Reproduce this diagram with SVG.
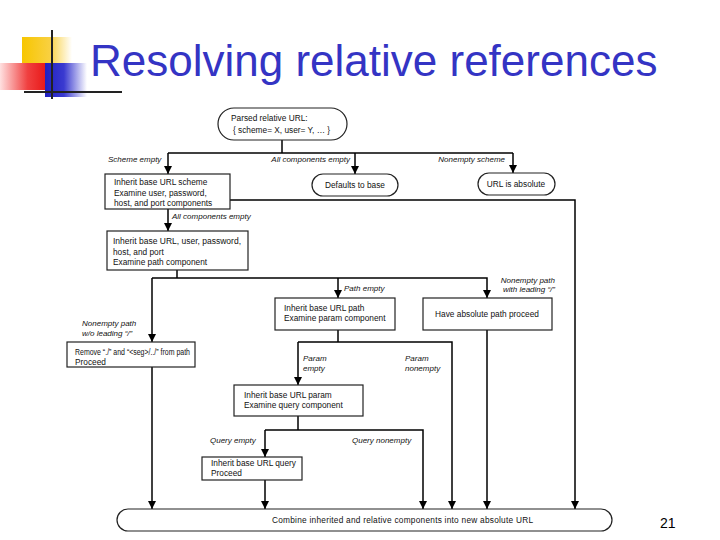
<svg xmlns="http://www.w3.org/2000/svg" width="720" height="540" viewBox="0 0 720 540">
<defs>
<linearGradient id="gy" x1="0" y1="0" x2="1" y2="0"><stop offset="0" stop-color="#f7c600"/><stop offset="0.55" stop-color="#f9d040"/><stop offset="1" stop-color="#ffffff"/></linearGradient>
<linearGradient id="gr" x1="0" y1="0" x2="1" y2="0"><stop offset="0" stop-color="#ffe0e0"/><stop offset="0.6" stop-color="#f04040"/><stop offset="1" stop-color="#e81818"/></linearGradient>
<linearGradient id="gb" x1="0" y1="0" x2="1" y2="0"><stop offset="0" stop-color="#2020c0"/><stop offset="0.45" stop-color="#3a3ad0"/><stop offset="1" stop-color="#ffffff"/></linearGradient>
<marker id="ah" markerUnits="userSpaceOnUse" markerWidth="9" markerHeight="9" refX="8" refY="4" orient="auto"><path d="M0,0 L8,4 L0,8 z" fill="#000"/></marker>
</defs>
<style>
.title{font-family:"Liberation Sans",Arial,sans-serif;font-size:44px;fill:#3434c4}
.box{fill:#fff;stroke:#222;stroke-width:1.2}
.t{font-family:"Liberation Sans",Arial,sans-serif;font-size:8.3px;fill:#111}
.l{font-family:"Liberation Sans",Arial,sans-serif;font-size:8px;font-style:italic;fill:#111}
.c{fill:none;stroke:#000;stroke-width:1.5}
.a{marker-end:url(#ah)}
.pg{font-family:"Liberation Sans",Arial,sans-serif;font-size:14px;fill:#000}
</style>
<rect width="720" height="540" fill="#fff"/>
<g id="logo">
<rect x="22" y="37" width="50" height="28" fill="url(#gy)"/>
<rect x="0" y="63" width="46" height="27" fill="url(#gr)"/>
<rect x="45" y="63" width="42" height="34" fill="url(#gb)"/>
<line x1="52" y1="30" x2="52" y2="99" stroke="#222" stroke-width="2"/>
<line x1="24" y1="92" x2="122" y2="92" stroke="#222" stroke-width="2"/>
</g>
<text class="title" x="90" y="76">Resolving relative references</text>
<g id="connectors">
<path class="c" d="M282,140 V153"/>
<path class="c" d="M168,153 H513"/>
<path class="c a" d="M168,153 V174"/>
<path class="c a" d="M355,153 V174"/>
<path class="c a" d="M513,153 V173"/>
<path class="c a" d="M230,200 H575 V509"/>
<path class="c a" d="M168,209 V231"/>
<path class="c" d="M177,270 V278"/>
<path class="c a" d="M152,278 H487 V298"/>
<path class="c a" d="M152,278 V342"/>
<path class="c a" d="M338,278 V298"/>
<path class="c a" d="M152,367 V509"/>
<path class="c" d="M338,330 V342"/>
<path class="c a" d="M298,342 H452 V509"/>
<path class="c a" d="M298,342 V385"/>
<path class="c a" d="M487,330 V509"/>
<path class="c" d="M298,416 V430"/>
<path class="c a" d="M265,430 H423 V509"/>
<path class="c a" d="M265,430 V457"/>
<path class="c a" d="M265,480 V509"/>
</g>
<g id="labels">
<text class="l" x="108" y="162">Scheme empty</text>
<text class="l" x="350" y="162" text-anchor="end">All components empty</text>
<text class="l" x="505" y="162" text-anchor="end">Nonempty scheme</text>
<text class="l" x="172" y="219">All components empty</text>
<text class="l" x="344" y="291">Path empty</text>
<text class="l" x="555" y="283" text-anchor="end">Nonempty path</text>
<text class="l" x="555" y="292" text-anchor="end">with leading “/”</text>
<text class="l" x="82" y="326">Nonempty path</text>
<text class="l" x="82" y="336">w/o leading “/”</text>
<text class="l" x="303" y="361">Param</text>
<text class="l" x="303" y="371">empty</text>
<text class="l" x="405" y="361">Param</text>
<text class="l" x="405" y="371">nonempty</text>
<text class="l" x="210" y="443">Query empty</text>
<text class="l" x="352" y="443">Query nonempty</text>
</g>
<g id="n-start">
<rect class="box" x="218" y="108" width="129" height="32" rx="16"/>
<text class="t" x="231" y="121">Parsed relative URL:</text>
<text class="t" x="233" y="133">{ scheme= X, user= Y, … }</text>
</g>
<g id="n-scheme">
<rect class="box" x="105" y="174" width="125" height="35"/>
<text class="t" x="114" y="185">Inherit base URL scheme</text>
<text class="t" x="114" y="196">Examine user, password,</text>
<text class="t" x="114" y="206">host, and port components</text>
</g>
<g id="n-defaults">
<rect class="box" x="312" y="174" width="86" height="22" rx="11"/>
<text class="t" x="355" y="188" text-anchor="middle">Defaults to base</text>
</g>
<g id="n-absolute">
<rect class="box" x="478" y="173" width="77" height="22" rx="11"/>
<text class="t" x="516" y="187" text-anchor="middle">URL is absolute</text>
</g>
<g id="n-user">
<rect class="box" x="107" y="231" width="141" height="39"/>
<text class="t" x="113" y="244" textLength="128" lengthAdjust="spacingAndGlyphs">Inherit base URL, user, password,</text>
<text class="t" x="113" y="255">host, and port</text>
<text class="t" x="113" y="265">Examine path component</text>
</g>
<g id="n-path">
<rect class="box" x="275" y="298" width="120" height="32"/>
<text class="t" x="284" y="311">Inherit base URL path</text>
<text class="t" x="284" y="321">Examine param component</text>
</g>
<g id="n-abspath">
<rect class="box" x="423" y="298" width="129" height="32"/>
<text class="t" x="487" y="317" text-anchor="middle">Have absolute path proceed</text>
</g>
<g id="n-remove">
<rect class="box" x="67" y="342" width="128" height="25"/>
<text class="t" x="75" y="355" textLength="115" lengthAdjust="spacingAndGlyphs">Remove “./” and “&lt;seg&gt;/../” from path</text>
<text class="t" x="75" y="365">Proceed</text>
</g>
<g id="n-param">
<rect class="box" x="234" y="385" width="129" height="31"/>
<text class="t" x="244" y="398">Inherit base URL param</text>
<text class="t" x="244" y="408">Examine query component</text>
</g>
<g id="n-query">
<rect class="box" x="202" y="457" width="100" height="23"/>
<text class="t" x="211" y="466">Inherit base URL query</text>
<text class="t" x="211" y="476">Proceed</text>
</g>
<g id="n-combine">
<rect class="box" x="117" y="509" width="495" height="22" rx="11"/>
<text class="t" x="272" y="523" textLength="261" lengthAdjust="spacing">Combine inherited and relative components into new absolute URL</text>
</g>
<text class="pg" x="660" y="528">21</text>
</svg>
